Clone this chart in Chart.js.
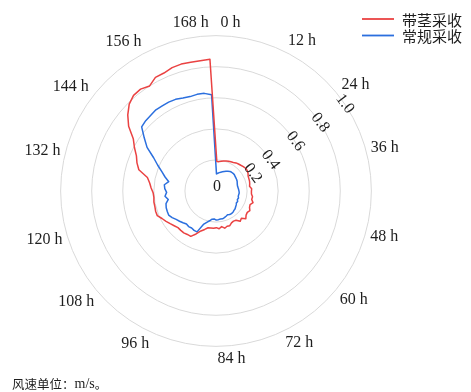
<!DOCTYPE html>
<html>
<head>
<meta charset="utf-8">
<script src="https://cdn.jsdelivr.net/npm/chart.js@4/dist/chart.umd.min.js"></script>
<style>
  html, body { margin: 0; padding: 0; background: #ffffff; }
  canvas { display: block; }
</style>
</head>
<body>
<canvas id="chart" width="471" height="392"></canvas>
<script>
// Time slots every 2 h; the full turn spans 170 h, so 168 h sits just left of 0 h
const hours = [
  0, 2, 4, 6, 8, 10, 12, 14, 16, 18, 20, 22, 24, 26, 28, 30, 32, 34, 36, 38,
  40, 42, 44, 46, 48, 50, 52, 54, 56, 58, 60, 62, 64, 66, 68, 70, 72, 74, 76, 78,
  80, 82, 84, 86, 88, 90, 92, 94, 96, 98, 100, 102, 104, 106, 108, 110, 112, 114, 116, 118,
  120, 122, 124, 126, 128, 130, 132, 134, 136, 138, 140, 142, 144, 146, 148, 150, 152, 154, 156, 158,
  160, 162, 164, 166, 168
];

// Hours that get a label round the rim
const labeledHours = [0, 12, 24, 36, 48, 60, 72, 84, 96, 108, 120, 132, 144, 156, 168];

// Wind speed (m/s), harvest with stems
const stemHarvest = [
  0.19, 0.19, 0.195, 0.2, 0.204, 0.208, 0.211, 0.215, 0.222, 0.226,
  0.23, 0.236, 0.24, 0.24, 0.236, 0.228, 0.226, 0.225, 0.222, 0.218,
  0.23, 0.228, 0.229, 0.238, 0.236, 0.25, 0.236, 0.24, 0.252, 0.244,
  0.248, 0.262, 0.24, 0.25, 0.228, 0.224, 0.228, 0.24, 0.238, 0.246,
  0.232, 0.244, 0.236, 0.24, 0.24, 0.242, 0.258, 0.275, 0.305, 0.334,
  0.335, 0.34, 0.34, 0.34, 0.35, 0.362, 0.376, 0.39, 0.41, 0.41,
  0.406, 0.406, 0.402, 0.405, 0.418, 0.43, 0.45, 0.515, 0.54, 0.56,
  0.595, 0.63, 0.7, 0.75, 0.79, 0.813, 0.816, 0.8, 0.829, 0.83,
  0.843, 0.847, 0.844, 0.845, 0.849
];

// Wind speed (m/s), conventional harvest
const conventionalHarvest = [
  0.11, 0.115, 0.12, 0.125, 0.13, 0.136, 0.142, 0.148, 0.155, 0.157,
  0.158, 0.158, 0.155, 0.153, 0.152, 0.15, 0.146, 0.143, 0.142, 0.144,
  0.146, 0.148, 0.15, 0.148, 0.147, 0.152, 0.148, 0.155, 0.152, 0.158,
  0.162, 0.168, 0.17, 0.175, 0.176, 0.175, 0.17, 0.175, 0.18, 0.184,
  0.182, 0.185, 0.187, 0.18, 0.183, 0.196, 0.21, 0.23, 0.29, 0.29,
  0.285, 0.289, 0.285, 0.295, 0.305, 0.315, 0.33, 0.342, 0.34, 0.338,
  0.332, 0.312, 0.33, 0.318, 0.33, 0.335, 0.31, 0.34, 0.37, 0.41,
  0.455, 0.525, 0.575, 0.632, 0.64, 0.643, 0.65, 0.648, 0.648, 0.645,
  0.635, 0.63, 0.634, 0.633, 0.62
];

// Radial scale values that carry a label
const radialTicks = [0.2, 0.4, 0.6, 0.8, 1.0];

const seriesNames = ['带茎采收', '常规采收'];
const seriesColors = ['#ea4242', '#2b6fde'];

const serifFont = '"Liberation Serif", "Times New Roman", serif';
const cjkFont = '"Noto Sans CJK SC", sans-serif';
const textColor = '#1e1e1e';

// Value labels laid along one ray, turned to follow the rings
const valueLabelRay = 53 * Math.PI / 180;
const radialValueLabels = {
  id: 'radialValueLabels',
  afterDatasetsDraw(chart) {
    const s = chart.scales.r;
    const ctx = chart.ctx;
    const a = valueLabelRay;
    ctx.save();
    ctx.font = '16px ' + serifFont;
    ctx.fillStyle = textColor;
    ctx.textAlign = 'center';
    ctx.textBaseline = 'middle';
    radialTicks.forEach(v => {
      // keep the innermost label clear of the centre "0"
      const d = Math.max(s.getDistanceFromCenterForValue(v), 40);
      const x = s.xCenter + d * Math.sin(a) + 8 * Math.cos(a);
      const y = s.yCenter - d * Math.cos(a) + 8 * Math.sin(a);
      ctx.save();
      ctx.translate(x, y);
      ctx.rotate(a);
      ctx.fillText(v.toFixed(1), 0, 0);
      ctx.restore();
    });
    ctx.fillText('0', s.xCenter + 1, s.yCenter - 4);
    ctx.restore();
  }
};

// Legend in the top-right corner and the unit note at the bottom left
const cornerTexts = {
  id: 'cornerTexts',
  afterDraw(chart) {
    const ctx = chart.ctx;
    ctx.save();
    ctx.textAlign = 'left';
    ctx.textBaseline = 'middle';
    ctx.fillStyle = textColor;
    chart.data.datasets.forEach((ds, i) => {
      const y = 19 + i * 16.5;
      ctx.strokeStyle = ds.borderColor;
      ctx.lineWidth = 1.8;
      ctx.beginPath();
      ctx.moveTo(362, y);
      ctx.lineTo(394, y);
      ctx.stroke();
      ctx.font = '15px ' + cjkFont;
      ctx.fillText(ds.label, 402, y + 1);
    });
    ctx.font = '12.5px ' + cjkFont;
    const head = '风速单位：';
    ctx.fillText(head, 12, 384);
    const w = ctx.measureText(head).width;
    ctx.font = '14px ' + serifFont;
    ctx.fillText('m/s', 12 + w, 384);
    const w2 = ctx.measureText('m/s').width;
    ctx.font = '12.5px ' + cjkFont;
    ctx.fillText('。', 12 + w + w2, 384);
    ctx.restore();
  }
};

new Chart(document.getElementById('chart'), {
  type: 'radar',
  data: {
    labels: hours,
    datasets: [
      {
        label: seriesNames[0],
        data: stemHarvest,
        borderColor: seriesColors[0],
        borderWidth: 1.5,
        pointRadius: 0,
        fill: false,
        tension: 0,
        spanGaps: true
      },
      {
        label: seriesNames[1],
        data: conventionalHarvest,
        borderColor: seriesColors[1],
        borderWidth: 1.5,
        pointRadius: 0,
        fill: false,
        tension: 0,
        spanGaps: true
      }
    ]
  },
  options: {
    responsive: false,
    animation: false,
    devicePixelRatio: 1,
    layout: { padding: { left: 12, right: 59, top: 13.5, bottom: 22 } },
    plugins: {
      legend: { display: false },
      tooltip: { enabled: false }
    },
    elements: { line: { borderJoinStyle: 'round' } },
    scales: {
      r: {
        min: 0,
        max: 1,
        startAngle: 1.6,
        ticks: { display: false, stepSize: 0.2 },
        grid: { circular: true, color: '#d9d9d9', lineWidth: 1 },
        angleLines: { display: false },
        pointLabels: {
          display: true,
          padding: 3,
          color: textColor,
          font: { family: serifFont, size: 16 },
          callback: (h) => labeledHours.includes(h) ? h + ' h' : ''
        }
      }
    }
  },
  plugins: [radialValueLabels, cornerTexts]
});
</script>
</body>
</html>
